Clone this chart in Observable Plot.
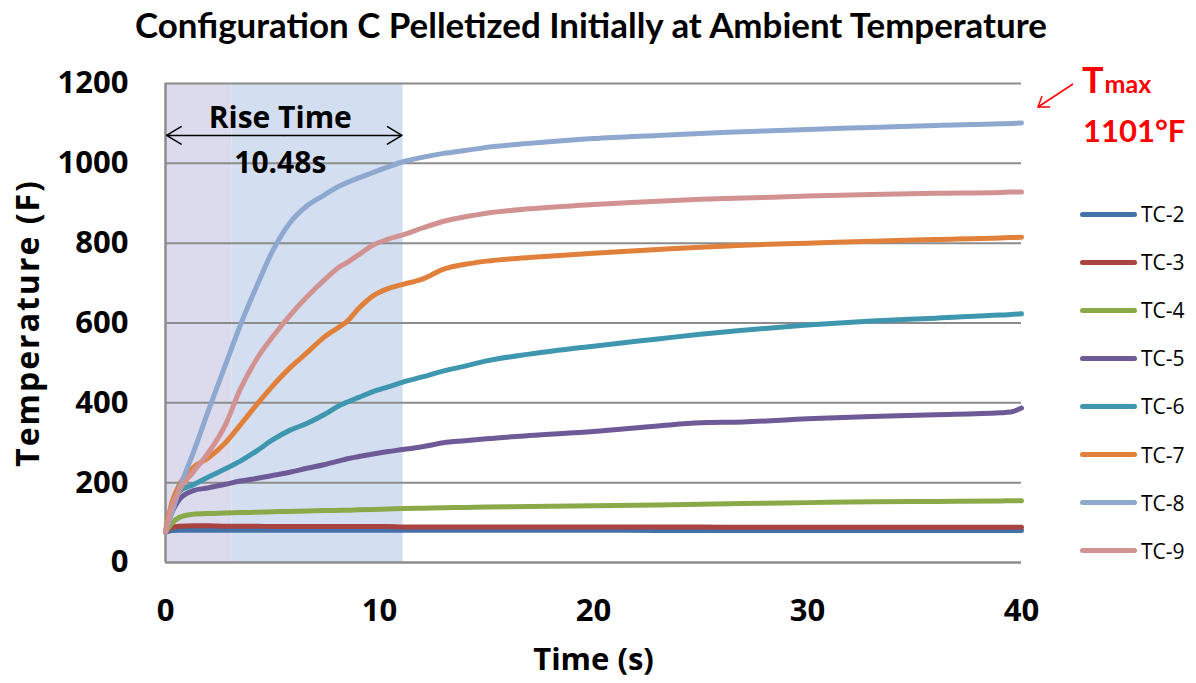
<!DOCTYPE html>
<html>
<head>
<meta charset="utf-8">
<script src="https://cdn.jsdelivr.net/npm/d3@7"></script>
<script src="https://cdn.jsdelivr.net/npm/@observablehq/plot@0.6"></script>
<style>
  html, body { margin: 0; padding: 0; background: #fff; }
  body { width: 1196px; height: 683px; position: relative; overflow: hidden; font-family: "Open Sans", Lato, sans-serif; }
  #title { position: absolute; left: 0; top: 0; }
  #chart { position: absolute; left: 0; top: 45px; }
  .leg { position: absolute; left: 1080px; height: 24px; display: flex; align-items: center; }
  .leg span.sw { display: inline-block; width: 57px; height: 5px; border-radius: 3px; margin-right: 4px; }
  .leg span.lb { font-size: 21px; color: #000; font-family: "Open Sans", sans-serif; }
  #tmax { position: absolute; left: 0; top: 0; }
</style>
</head>
<body>
<svg id="title" width="1196" height="45"></svg>
<div id="chart"></div>
<div id="legend"></div>
<svg id="tmax" width="1196" height="160"></svg>
<script>
// ---- data ----
const titleText = "Configuration C Pelletized Initially at Ambient Temperature";
const xLabel = "Time (s)";
const yLabel = "Temperature (F)";
const seriesNames = ["TC-2", "TC-3", "TC-4", "TC-5", "TC-6", "TC-7", "TC-8", "TC-9"];
const seriesColors = ["#4571a9", "#a84341", "#8aaa4a", "#6e5a97", "#3f97af", "#e0803a", "#8ea8d0", "#d39292"];
const time = [0, 0.3, 0.65, 1.3, 2, 2.8, 3.5, 4.3, 5, 5.8, 6.6, 7.4, 8.2, 8.5, 9, 9.7, 10.4, 11.1, 12, 13, 14, 15, 17, 20, 23, 25, 27, 30, 33, 36, 39, 39.5, 40];
const tc2 = [76,80,81,81,81,81,81,81,81,81, 81,81,81,81,81,81,81,81,81,81, 81,81,81,81,80,80,80,80,80,80, 80,80,80];
const tc3 = [76,88,91,92,92,91,91,91,90,90, 90,90,90,90,90,90,90,89,89,89, 89,89,89,89,89,89,88,88,88,88, 88,88,88];
const tc4 = [76,98,113,121,123,124,125,126,127,128, 129,130,131,131,132,133,134,135,136,137, 138,139,140,142,144,146,148,150,152,153, 154,155,155];
const tc5 = [76,125,158,180,187,196,204,211,218,226, 236,245,256,260,265,272,278,283,290,300, 305,310,318,328,342,350,352,360,366,370, 375,377,387];
const tc6 = [76,140,178,195,214,235,254,281,307,331, 348,370,395,402,413,428,440,452,465,480, 492,505,522,542,560,572,582,595,605,612, 620,621,623];
const tc7 = [80,150,195,238,262,300,345,398,442,487, 525,564,593,605,635,668,686,697,710,735, 747,755,764,775,784,790,795,800,805,809, 813,814,815];
const tc8 = [76,125,185,275,380,495,595,697,780,850, 893,920,945,952,963,977,991,1004,1015,1025, 1032,1040,1050,1062,1070,1075,1079,1085,1090,1095, 1099,1100,1101];
const tc9 = [76,140,182,227,275,345,435,513,565,618, 665,707,743,752,770,795,810,821,838,855, 866,875,886,897,905,910,913,918,922,925, 927,928,928];
const seriesValues = [tc2, tc3, tc4, tc5, tc6, tc7, tc8, tc9];
const xTicks = [0, 10, 20, 30, 40];
const yTicks = [0, 200, 400, 600, 800, 1000, 1200];
const gridValues = [200, 400, 600, 800, 1000, 1200];
const riseBands = [{x1: 0, x2: 3.1, fill: "#dcdbed"}, {x1: 3.1, x2: 11.1, fill: "#d3def0"}];
const riseArrowY = 1070;
const riseEnd = 11.1;
const riseLabel1 = "Rise Time";
const riseLabel2 = "10.48s";
const tmaxValue = "1101°F";

// ---- build ----
const data = seriesNames.flatMap((s, i) => time.map((t, j) => ({series: s, t, v: seriesValues[i][j]})));
const mid = riseEnd / 2;
const fontFam = "'Open Sans', Lato, sans-serif";

const plot = Plot.plot({
  width: 1196,
  height: 638,
  marginLeft: 165,
  marginRight: 175,
  marginTop: 38,
  marginBottom: 121,
  style: {fontFamily: fontFam, background: "#fff", color: "#000"},
  x: {domain: [0, 40]},
  y: {domain: [0, 1200]},
  color: {domain: seriesNames, range: seriesColors},
  marks: [
    Plot.rect(riseBands, {x1: "x1", x2: "x2", y1: 0, y2: 1200, fill: "fill"}),
    Plot.ruleY(gridValues, {stroke: "#8c8c8c", strokeWidth: 2}),
    Plot.ruleY([0], {stroke: "#8c8c8c", strokeWidth: 2.5}),
    Plot.ruleX([0], {stroke: "#8c8c8c", strokeWidth: 2.5}),
    Plot.axisY({ticks: yTicks, tickSize: 0, tickPadding: 37, fontSize: 31, fontWeight: "bold", tickFormat: d => String(d), label: null}),
    Plot.axisX({ticks: xTicks, tickSize: 0, tickPadding: 36, fontSize: 31, fontWeight: "bold", tickFormat: d => String(d), label: null}),
    Plot.line(data, {x: "t", y: "v", z: "series", stroke: "series", strokeWidth: 5, curve: "monotone-x", strokeLinejoin: "round", strokeLinecap: "round"}),
    Plot.arrow([{a: mid, b: 0.05}, {a: mid, b: riseEnd - 0.05}], {x1: "a", x2: "b", y1: riseArrowY, y2: riseArrowY, stroke: "#000", strokeWidth: 1.5, headLength: 17, headAngle: 62}),
    Plot.text([riseLabel1], {x: mid, y: riseArrowY, text: d => d, dy: -17, dx: -4, lineAnchor: "middle", fontSize: 30, fontWeight: "bold", fill: "#000"}),
    Plot.text([riseLabel2], {x: mid, y: riseArrowY, text: d => d, dy: 28, dx: -4, lineAnchor: "middle", fontSize: 30, fontWeight: "bold", fill: "#000"}),
    Plot.text([yLabel], {frameAnchor: "left", text: d => d, rotate: -90, dx: -137, textAnchor: "middle", lineAnchor: "middle", fontSize: 32, fontWeight: "bold", fill: "#000", className: "ylab"}),
    Plot.text([xLabel], {frameAnchor: "bottom", text: d => d, dy: 98, textAnchor: "middle", lineAnchor: "middle", fontSize: 31, fontWeight: "bold", fill: "#000"})
  ]
});
document.getElementById("chart").appendChild(plot);
d3.select(plot).selectAll(".ylab text").style("letter-spacing", "2px");

// title, fitted to width
const tsvg = d3.select("#title");
const tt = tsvg.append("text").attr("x", 591).attr("y", 38).attr("text-anchor", "middle")
  .attr("font-family", "Lato, 'Open Sans', sans-serif").attr("font-weight", "bold").attr("font-size", 30).text(titleText);
const w = tt.node().getComputedTextLength();
tt.attr("font-size", 30 * 912 / w);

// legend
const leg = d3.select("#legend");
seriesNames.forEach((s, i) => {
  const row = leg.append("div").attr("class", "leg").style("top", (214 - 12 + i * 48.1) + "px");
  row.append("span").attr("class", "sw").style("background", seriesColors[i]);
  row.append("span").attr("class", "lb").text(s);
});

// Tmax annotation
const ts = d3.select("#tmax");
const tx = ts.append("text").attr("x", 1082).attr("y", 93).attr("fill", "#ff0000")
  .attr("font-family", "Lato, 'Open Sans', sans-serif").attr("font-weight", "bold");
tx.append("tspan").attr("font-size", 36).text("T");
tx.append("tspan").attr("font-size", 25).attr("dx", 1).text("max");
ts.append("text").attr("x", 1083).attr("y", 142).attr("fill", "#ff0000")
  .attr("font-family", "Lato, 'Open Sans', sans-serif").attr("font-weight", "bold").attr("font-size", 31).text(tmaxValue);
ts.append("line").attr("x1", 1073).attr("y1", 84).attr("x2", 1038).attr("y2", 107).attr("stroke", "#ff0000").attr("stroke-width", 1.5);
ts.append("polyline").attr("points", "1042,96 1038,107 1050,107").attr("fill", "none").attr("stroke", "#ff0000").attr("stroke-width", 1.5);
</script>
</body>
</html>
